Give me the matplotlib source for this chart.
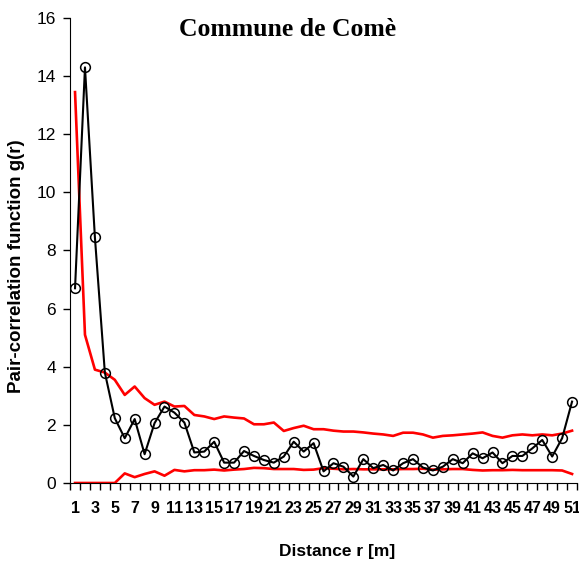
import numpy as np
import matplotlib
matplotlib.use('Agg')
import matplotlib.pyplot as plt

distance = np.arange(1, 52)

g_obs = [6.7, 14.3, 8.45, 3.8, 2.23, 1.54, 2.2, 0.99, 2.06, 2.63,
         2.42, 2.08, 1.05, 1.08, 1.42, 0.7, 0.7, 1.1, 0.93, 0.79,
         0.7, 0.91, 1.42, 1.08, 1.37, 0.4, 0.68, 0.56, 0.22, 0.82,
         0.51, 0.62, 0.43, 0.68, 0.82, 0.53, 0.43, 0.56, 0.82, 0.68,
         1.02, 0.85, 1.05, 0.68, 0.93, 0.93, 1.19, 1.48, 0.91, 1.54,
         2.8]

env_upper = [13.45, 5.1, 3.9, 3.8, 3.55, 3.03, 3.32, 2.92, 2.69, 2.8,
             2.63, 2.65, 2.34, 2.29, 2.2, 2.29, 2.25, 2.22, 2.02, 2.02,
             2.08, 1.79, 1.89, 1.97, 1.85, 1.85, 1.8, 1.77, 1.77, 1.74,
             1.7, 1.67, 1.62, 1.73, 1.73, 1.67, 1.56, 1.62, 1.64, 1.67,
             1.7, 1.74, 1.62, 1.56, 1.64, 1.67, 1.64, 1.67, 1.64, 1.7,
             1.8]

env_lower = [0, 0, 0, 0, 0, 0.33, 0.2, 0.31, 0.4, 0.25,
             0.45, 0.4, 0.44, 0.44, 0.46, 0.43, 0.46, 0.48, 0.52, 0.51,
             0.48, 0.48, 0.48, 0.45, 0.46, 0.51, 0.49, 0.47, 0.48, 0.47,
             0.47, 0.47, 0.47, 0.48, 0.48, 0.49, 0.46, 0.47, 0.48, 0.48,
             0.45, 0.43, 0.44, 0.44, 0.45, 0.44, 0.44, 0.44, 0.44, 0.43,
             0.31]

fig = plt.figure(figsize=(5.79, 5.62), dpi=100)
ax = fig.add_axes([0.121, 0.1406, 0.8756, 0.8274])

ax.plot(distance, env_upper, color='#ff0000', lw=1.9, zorder=2)
ax.plot(distance, env_lower, color='#ff0000', lw=1.9, zorder=2)
ax.plot(distance, g_obs, color='black', lw=1.5, marker='o', markersize=7,
        markerfacecolor='none', markeredgecolor='black', markeredgewidth=1.1,
        zorder=3)

ax.set_xlim(0.5, 51.5)
ax.set_ylim(0, 16)
ax.set_yticks(np.arange(0, 17, 2))
ax.set_xticks(distance[::2])
ax.set_xticks(np.arange(0.5, 52, 1), minor=True)
ax.tick_params(axis='x', which='major', length=0, pad=13, labelsize=11.5)
ax.tick_params(axis='x', which='minor', length=5, direction='out', width=1)
ax.tick_params(axis='y', length=5, width=1, labelsize=12.5, pad=5)

for lab in ax.get_xticklabels():
    lab.set_family('Liberation Sans')
    lab.set_fontweight('bold')
for lab in ax.get_yticklabels():
    lab.set_family('Liberation Sans')

ax.spines['top'].set_visible(False)
ax.spines['right'].set_visible(False)

ax.set_xlabel('Distance r [m]', fontsize=12.5, fontweight='bold',
              family='Liberation Sans')
ax.xaxis.set_label_coords(0.527, -0.131)
ax.set_ylabel('Pair-correlation function g(r)', fontsize=13.5, fontweight='bold',
              family='Liberation Sans')
ax.yaxis.set_label_coords(-0.089, 0.467)
ax.text(0.43, 0.975, 'Commune de Comè', transform=ax.transAxes, ha='center',
        va='center', fontsize=18.5, fontweight='bold', family='Liberation Serif')

fig.savefig('out.png', dpi=100)
